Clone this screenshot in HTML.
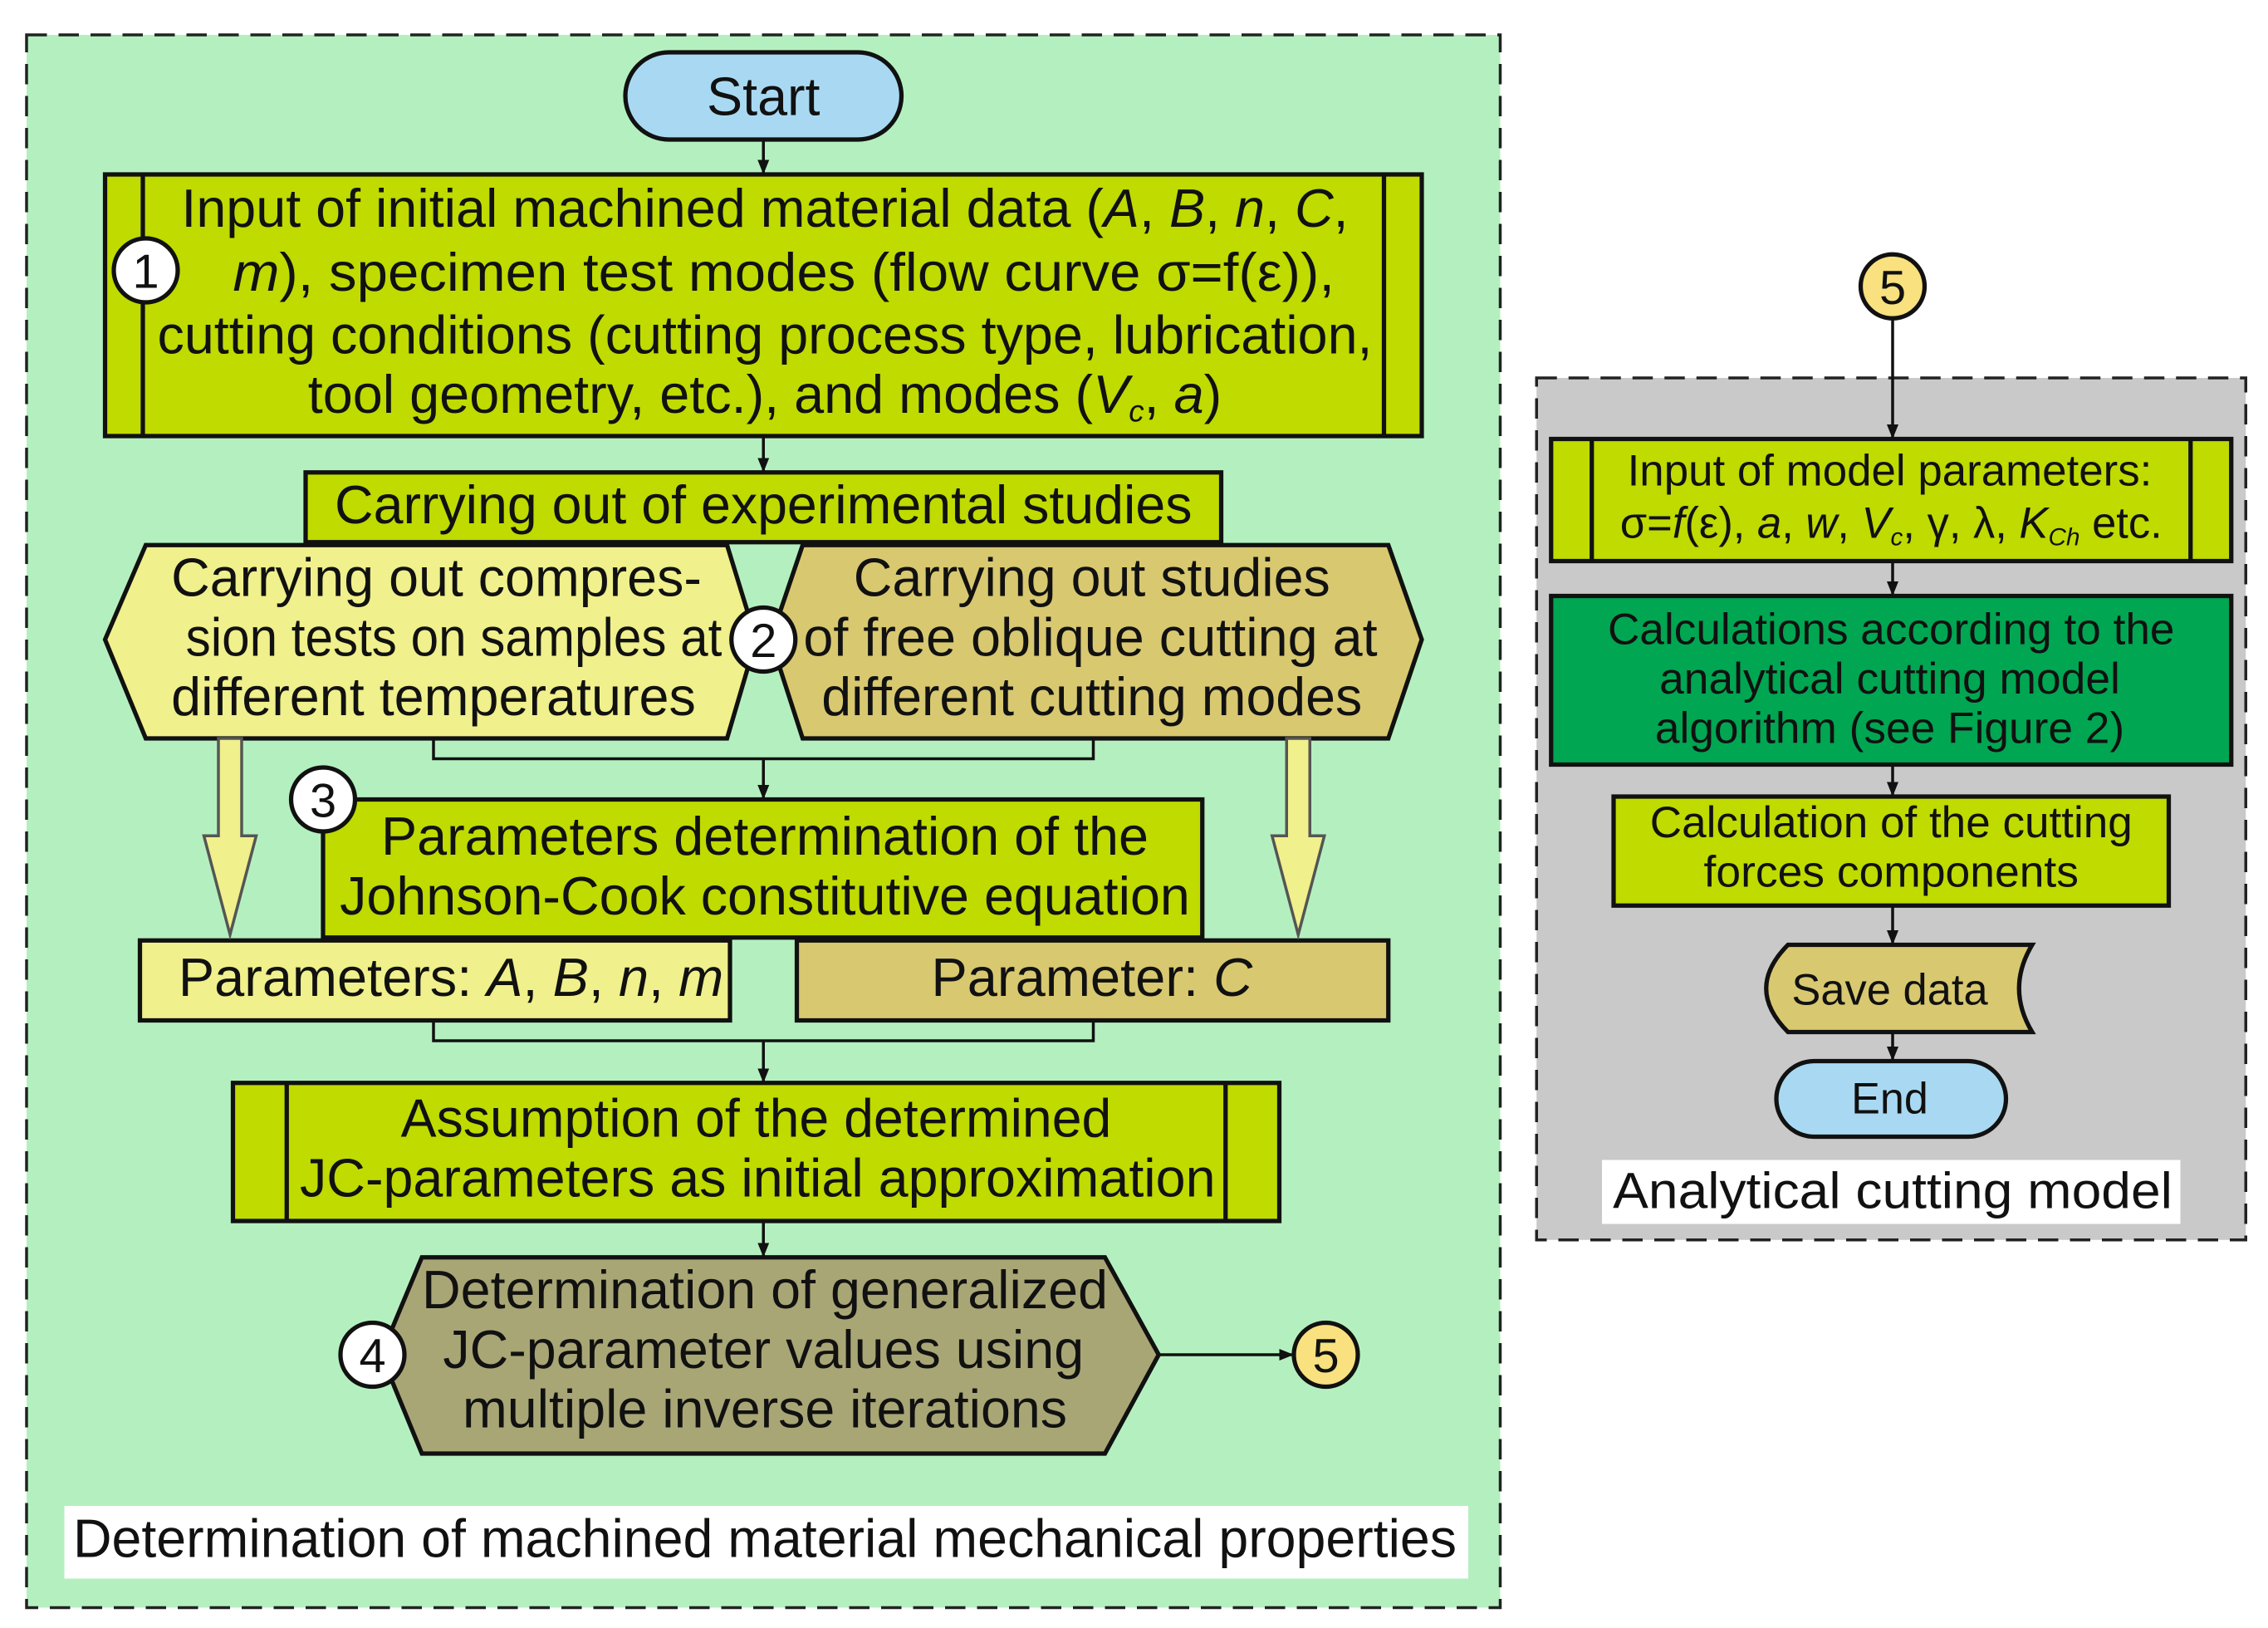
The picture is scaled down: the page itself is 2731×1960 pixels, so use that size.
<!DOCTYPE html>
<html><head><meta charset="utf-8"><style>
html,body{margin:0;padding:0;background:#fff}
svg{display:block}
text{font-family:"Liberation Sans",Arial,sans-serif;fill:#111}
</style></head><body>
<svg width="2731" height="1960" viewBox="0 0 1560 1120" xmlns="http://www.w3.org/2000/svg">
<defs>
<marker id="ah" markerWidth="10" markerHeight="10" refX="9" refY="5" orient="auto" markerUnits="userSpaceOnUse">
<path d="M0,1 L10,5 L0,9 Z" fill="#111"/></marker>
</defs>
<rect width="1560" height="1120" fill="#fff"/>
<rect x="18" y="24" width="1014" height="1082" fill="#b4f0bf" stroke="#222" stroke-width="2" stroke-dasharray="14,8"/>
<rect x="1057" y="260" width="488" height="593" fill="#c9c9c9" stroke="#222" stroke-width="2" stroke-dasharray="14,8"/>

<g stroke="#111" stroke-width="3">
<rect x="430" y="36" width="190" height="60" rx="30" fill="#a9d9f2"/>
<rect x="72" y="120" width="906" height="180" fill="#bfdb00"/>
<line x1="98" y1="120" x2="98" y2="300"/><line x1="952" y1="120" x2="952" y2="300"/>
<rect x="210" y="325" width="630" height="48" fill="#bfdb00"/>
<polygon points="72,440 100,375 500,375 520,440 500,508 100,508" fill="#f0f08c"/>
<polygon points="530,440 552,375 955,375 978,440 955,508 552,508" fill="#d8c870"/>
<rect x="222" y="550" width="605" height="95" fill="#bfdb00"/>
<rect x="96" y="647" width="406" height="55" fill="#f0f08c"/>
<rect x="548" y="647" width="407" height="55" fill="#d8c870"/>
<rect x="160" y="745" width="720" height="95" fill="#bfdb00"/>
<line x1="197" y1="745" x2="197" y2="840"/><line x1="843" y1="745" x2="843" y2="840"/>
<polygon points="262,932 290,865 760,865 797,932 760,1000 290,1000" fill="#a9a676"/>
</g>

<g stroke="#111" stroke-width="2" fill="none">
<line x1="525" y1="96" x2="525" y2="119" marker-end="url(#ah)"/>
<line x1="525" y1="300" x2="525" y2="324" marker-end="url(#ah)"/>
<polyline points="298,508 298,522 752,522 752,508"/>
<line x1="525" y1="522" x2="525" y2="549" marker-end="url(#ah)"/>
<polyline points="298,702 298,716 752,716 752,702"/>
<line x1="525" y1="716" x2="525" y2="744" marker-end="url(#ah)"/>
<line x1="525" y1="840" x2="525" y2="864" marker-end="url(#ah)"/>
<line x1="797" y1="932" x2="889" y2="932" marker-end="url(#ah)"/>
<line x1="1302" y1="220" x2="1302" y2="301" marker-end="url(#ah)"/>
<line x1="1302" y1="386" x2="1302" y2="409" marker-end="url(#ah)"/>
<line x1="1302" y1="526" x2="1302" y2="547" marker-end="url(#ah)"/>
<line x1="1302" y1="623" x2="1302" y2="649" marker-end="url(#ah)"/>
<line x1="1302" y1="710" x2="1302" y2="729" marker-end="url(#ah)"/>
</g>
<g fill="#f0f08c" stroke="#555" stroke-width="2">
<polygon points="150,508 166,508 166,575 176,575 158,643 140,575 150,575"/>
<polygon points="885,508 901,508 901,575 911,575 893,643 875,575 885,575"/>
</g>

<g stroke="#111" stroke-width="3">
<circle cx="100" cy="186" r="22" fill="#fff"/>
<circle cx="525" cy="440" r="22" fill="#fff"/>
<circle cx="222" cy="550" r="22" fill="#fff"/>
<circle cx="256" cy="932" r="22" fill="#fff"/>
<circle cx="912" cy="932" r="22" fill="#f8e17e"/>
<circle cx="1302" cy="197" r="22" fill="#f8e17e"/>
</g>
<g font-size="33" text-anchor="middle">
<text x="100" y="198">1</text><text x="525" y="452">2</text><text x="222" y="562">3</text>
<text x="256" y="944">4</text><text x="912" y="944">5</text><text x="1302" y="209">5</text>
</g>

<g stroke="#111" stroke-width="3">
<rect x="1067" y="302" width="468" height="84" fill="#bfdb00"/>
<line x1="1095" y1="302" x2="1095" y2="386"/><line x1="1507" y1="302" x2="1507" y2="386"/>
<rect x="1067" y="410" width="468" height="116" fill="#00a652"/>
<rect x="1110" y="548" width="382" height="75" fill="#bfdb00"/>
<path d="M1230,650 L1398,650 Q1380,680 1398,710 L1230,710 Q1200,680 1230,650 Z" fill="#d8c870"/>
<rect x="1222" y="730" width="158" height="52" rx="26" fill="#a9d9f2"/>
</g>
<rect x="44" y="1036" width="966" height="50" fill="#fff"/>
<rect x="1102" y="798" width="398" height="44" fill="#fff"/>

<g font-size="37" text-anchor="middle" lengthAdjust="spacingAndGlyphs">
<text x="525" y="79" textLength="78" lengthAdjust="spacingAndGlyphs">Start</text>
<text x="526" y="156" textLength="803" lengthAdjust="spacingAndGlyphs">Input of initial machined material data (<tspan font-style="italic">A</tspan>, <tspan font-style="italic">B</tspan>, <tspan font-style="italic">n</tspan>, <tspan font-style="italic">C</tspan>,</text>
<text x="539" y="200" textLength="758" lengthAdjust="spacingAndGlyphs"><tspan font-style="italic">m</tspan>), specimen test modes (flow curve σ=f(ε)),</text>
<text x="526" y="243" textLength="836" lengthAdjust="spacingAndGlyphs">cutting conditions (cutting process type, lubrication,</text>
<text x="526" y="284">tool geometry, etc.), and modes (<tspan font-style="italic">V</tspan><tspan font-size="21" dy="6" font-style="italic">c</tspan><tspan dy="-6">, </tspan><tspan font-style="italic">a</tspan>)</text>
<text x="525" y="360" textLength="590" lengthAdjust="spacingAndGlyphs">Carrying out of experimental studies</text>
<text x="300" y="410" textLength="365" lengthAdjust="spacingAndGlyphs">Carrying out compres-</text>
<text x="312" y="451" textLength="369" lengthAdjust="spacingAndGlyphs">sion tests on samples at</text>
<text x="298" y="492" textLength="361" lengthAdjust="spacingAndGlyphs">different temperatures</text>
<text x="751" y="410" textLength="328" lengthAdjust="spacingAndGlyphs">Carrying out studies</text>
<text x="750" y="451" textLength="395" lengthAdjust="spacingAndGlyphs">of free oblique cutting at</text>
<text x="751" y="492" textLength="372" lengthAdjust="spacingAndGlyphs">different cutting modes</text>
<text x="526" y="588" textLength="528" lengthAdjust="spacingAndGlyphs">Parameters determination of the</text>
<text x="526" y="629" textLength="585" lengthAdjust="spacingAndGlyphs">Johnson-Cook constitutive equation</text>
<text x="310" y="685" textLength="375" lengthAdjust="spacingAndGlyphs">Parameters: <tspan font-style="italic">A</tspan>, <tspan font-style="italic">B</tspan>, <tspan font-style="italic">n</tspan>, <tspan font-style="italic">m</tspan></text>
<text x="751" y="685" textLength="221" lengthAdjust="spacingAndGlyphs">Parameter: <tspan font-style="italic">C</tspan></text>
<text x="520" y="782" textLength="489" lengthAdjust="spacingAndGlyphs">Assumption of the determined</text>
<text x="521" y="823" textLength="630" lengthAdjust="spacingAndGlyphs">JC-parameters as initial approximation</text>
<text x="526" y="900" textLength="472" lengthAdjust="spacingAndGlyphs">Determination of generalized</text>
<text x="525" y="941" textLength="441" lengthAdjust="spacingAndGlyphs">JC-parameter values using</text>
<text x="526" y="982" textLength="416" lengthAdjust="spacingAndGlyphs">multiple inverse iterations</text>
<text x="526" y="1071" textLength="952" lengthAdjust="spacingAndGlyphs">Determination of machined material mechanical properties</text>
<text x="1302" y="831" font-size="35" textLength="385" lengthAdjust="spacingAndGlyphs">Analytical cutting model</text>
</g>
<g font-size="30" text-anchor="middle">
<text x="1300" y="334" textLength="361" lengthAdjust="spacingAndGlyphs">Input of model parameters:</text>
<text x="1301" y="370">σ=<tspan font-style="italic">f</tspan>(ε), <tspan font-style="italic">a</tspan>, <tspan font-style="italic">w</tspan>, <tspan font-style="italic">V</tspan><tspan font-size="17" dy="5" font-style="italic">c</tspan><tspan dy="-5">, γ, λ, </tspan><tspan font-style="italic">K</tspan><tspan font-size="17" dy="5" font-style="italic">Ch</tspan><tspan dy="-5"> etc.</tspan></text>
<text x="1301" y="443" textLength="390" lengthAdjust="spacingAndGlyphs">Calculations according to the</text>
<text x="1300" y="477" textLength="317" lengthAdjust="spacingAndGlyphs">analytical cutting model</text>
<text x="1300" y="511" textLength="323" lengthAdjust="spacingAndGlyphs">algorithm (see Figure 2)</text>
<text x="1301" y="576" textLength="332" lengthAdjust="spacingAndGlyphs">Calculation of the cutting</text>
<text x="1301" y="610" textLength="258" lengthAdjust="spacingAndGlyphs">forces components</text>
<text x="1300" y="691" textLength="135" lengthAdjust="spacingAndGlyphs">Save data</text>
<text x="1300" y="766" textLength="53" lengthAdjust="spacingAndGlyphs">End</text>
</g>
</svg>
</body></html>
